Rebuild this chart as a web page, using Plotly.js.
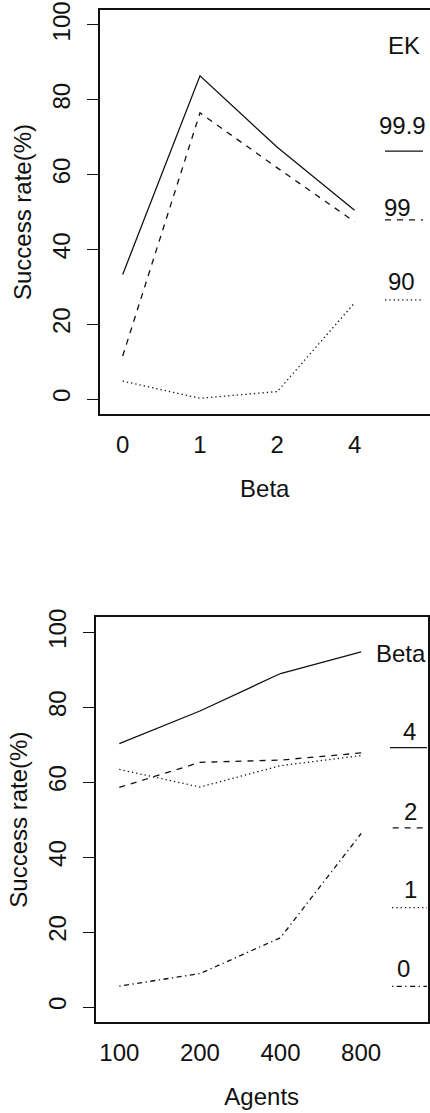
<!DOCTYPE html>
<html>
<head>
<meta charset="utf-8">
<script src="https://cdn.plot.ly/plotly-3.0.1.min.js"></script>
<style>html,body{margin:0;padding:0;background:#fff;}#chart{width:430px;height:1113px;}</style>
</head>
<body>
<div id="chart"></div>
<script>
// ---- data ----
const betaLevels = ['0', '1', '2', '4'];
const ek999 = [33.3, 86.4, 67.3, 50.5];
const ek99 = [11.5, 76.5, 61.8, 47.4];
const ek90 = [4.8, 0.2, 2.0, 25.7];
const ekLabels = ['99.9', '99', '90'];

const agentLevels = ['100', '200', '400', '800'];
const beta4 = [70.3, 79.0, 89.0, 94.8];
const beta2 = [58.6, 65.3, 65.9, 67.8];
const beta1 = [63.4, 58.7, 64.4, 67.1];
const beta0 = [5.6, 8.9, 18.5, 46.3];
const betaLabels = ['4', '2', '1', '0'];

const yTicks = [0, 20, 40, 60, 80, 100];

// ---- styling ----
const W = 430, H = 1113;
const FONT = {family: '"Liberation Sans", Arial, Helvetica, sans-serif', size: 24, color: '#111'};
const INK = '#111';
const LW = 1.3;
const DASHES = {solid: 'solid', dash: '6px,6px', dot: '1.3px,3px', dotdash: '1.3px,3.5px,5px,3.5px'};
const px = x => x / W;
const py = y => 1 - y / H;

function tr(x, y, dash, xa, ya) {
  return {x: x, y: y, type: 'scatter', mode: 'lines', xaxis: xa, yaxis: ya,
    line: {color: INK, width: LW, dash: dash}, hoverinfo: 'x+y', showlegend: false};
}

const data = [
  tr(betaLevels, ek999, DASHES.solid, 'x', 'y'),
  tr(betaLevels, ek99, DASHES.dash, 'x', 'y'),
  tr(betaLevels, ek90, DASHES.dot, 'x', 'y'),
  tr(agentLevels, beta4, DASHES.solid, 'x2', 'y2'),
  tr(agentLevels, beta2, DASHES.dash, 'x2', 'y2'),
  tr(agentLevels, beta1, DASHES.dot, 'x2', 'y2'),
  tr(agentLevels, beta0, DASHES.dotdash, 'x2', 'y2')
];

function xaxisDef(domain, range, cats, title, anchor) {
  return {domain: domain, range: range, type: 'category', categoryorder: 'array', categoryarray: cats,
    anchor: anchor, showline: true, mirror: true, linecolor: INK, linewidth: 2,
    ticks: '', showgrid: false, zeroline: false, tickfont: FONT, ticklabelstandoff: 8,
    title: {text: title, font: FONT, standoff: 23}, fixedrange: true};
}
function yaxisDef(domain, mirror, anchor) {
  return {domain: domain, range: [-4, 104], anchor: anchor, tickvals: yTicks, ticktext: yTicks.map(String),
    ticks: 'outside', ticklen: 11, tickwidth: LW, tickcolor: INK, tickangle: -90,
    showline: true, mirror: mirror, linecolor: INK, linewidth: 2,
    showgrid: false, zeroline: false, tickfont: FONT, ticklabelstandoff: 7,
    title: {text: 'Success rate(%)', font: FONT, standoff: 10}, fixedrange: true};
}

const shapes = [];
const annotations = [];
function legLine(x0, x1, yv, dash, yref) {
  shapes.push({type: 'line', xref: 'paper', yref: yref, x0: px(x0), x1: px(x1), y0: yv, y1: yv,
    line: {color: INK, width: LW, dash: dash}});
}
function label(text, cx, cy) {
  annotations.push({text: text, xref: 'paper', yref: 'paper', x: px(cx), y: py(cy),
    xanchor: 'center', yanchor: 'middle', showarrow: false, font: FONT});
}

// top legend (EK)
label('EK', 404, 45);
label(ekLabels[0], 402.5, 126); legLine(385, 423, 66.3, DASHES.solid, 'y');
label(ekLabels[1], 397.5, 207); legLine(385, 423, 47.9, DASHES.dash, 'y');
label(ekLabels[2], 401.7, 281); legLine(385, 423, 26.5, DASHES.dot, 'y');

// bottom legend (Beta)
label('Beta', 401, 653);
label(betaLabels[0], 409, 731); legLine(390, 427, 69.2, DASHES.solid, 'y2');
label(betaLabels[1], 410, 811); legLine(392.7, 427, 47.8, DASHES.dash, 'y2');
label(betaLabels[2], 410, 889); legLine(392, 427, 26.5, DASHES.dot, 'y2');
label(betaLabels[3], 403.3, 968.7); legLine(392, 427, 5.5, DASHES.dotdash, 'y2');

const layout = {
  width: W, height: H, margin: {l: 0, r: 0, t: 0, b: 0, pad: 0},
  paper_bgcolor: '#fff', plot_bgcolor: '#fff', font: FONT, showlegend: false,
  xaxis: xaxisDef([px(99.5), 1], [-0.3, 3.976], betaLevels, 'Beta', 'y'),
  yaxis: yaxisDef([py(414), py(10)], false, 'x'),
  xaxis2: xaxisDef([px(95.7), px(427.7)], [-0.293, 3.826], agentLevels, 'Agents', 'y2'),
  yaxis2: yaxisDef([py(1022), py(617.3)], true, 'x2'),
  shapes: shapes, annotations: annotations
};

Plotly.newPlot('chart', data, layout, {displayModeBar: false});
</script>
</body>
</html>
